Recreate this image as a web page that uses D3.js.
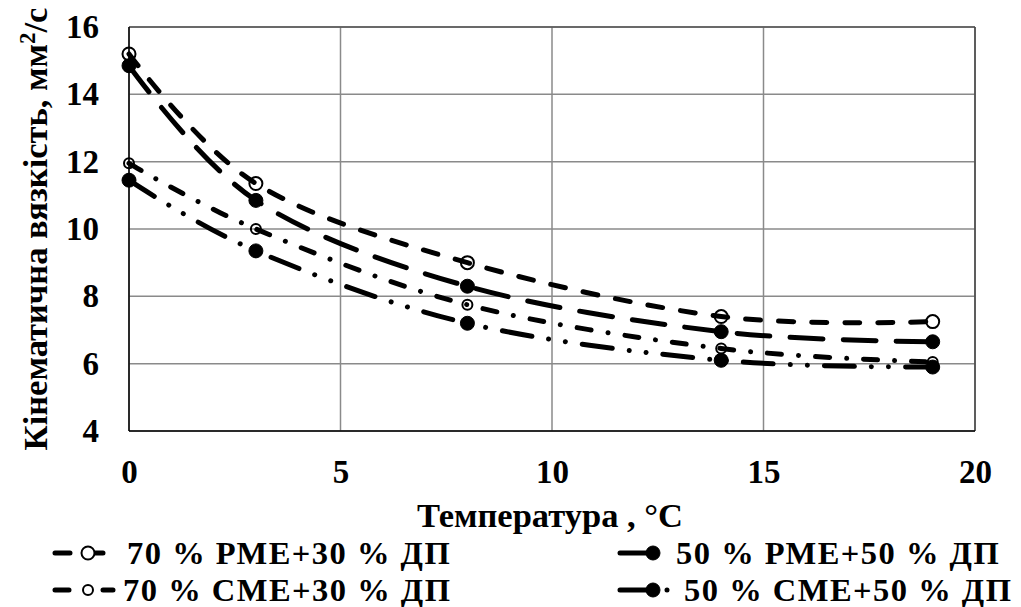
<!DOCTYPE html>
<html>
<head>
<meta charset="utf-8">
<script src="https://cdn.jsdelivr.net/npm/d3@7"></script>
<style>
  body { margin: 0; background: #fff; }
  svg text { font-family: "Liberation Serif", "Times New Roman", "DejaVu Serif", serif !important; font-weight: bold; fill: #000; }
</style>
</head>
<body>
<div id="viz"></div>
<script>
// data

const temps = [0, 3, 8, 14, 19];
const rme70 = [15.2, 11.35, 9.0, 7.4, 7.25];
const rme50 = [14.85, 10.85, 8.3, 6.95, 6.65];
const cme70 = [11.95, 10.0, 7.75, 6.45, 6.05];
const cme50 = [11.45, 9.35, 7.2, 6.1, 5.9];

const seriesNames = ["70 % РМЕ+30 % ДП", "50 % РМЕ+50 % ДП", "70 % СМЕ+30 % ДП", "50 % СМЕ+50 % ДП"];
const xTicks = [0, 5, 10, 15, 20];
const yTicks = [4, 6, 8, 10, 12, 14, 16];

async function draw() {

  const series = [rme70, rme50, cme70, cme50].map((vals, i) => ({
    name: seriesNames[i],
    values: temps.map((t, j) => ({ t: t, v: vals[j] }))
  }));

  // looks per series
  const looks = [
    { dash: "15,18", marker: "open", r: 6.5 },
    { dash: "33,20", marker: "filled", r: 7 },
    { dash: "14,17,0.01,17", marker: "open", r: 5 },
    { dash: "30,17,0.01,17,0.01,17", marker: "filled", r: 7 }
  ];

  // dimensions

  const dms = {
    width: 1021,
    height: 607,
    margins: { top: 27, left: 129, right: 46, bottom: 176 }
  };
  dms.innerWidth = dms.width - dms.margins.left - dms.margins.right;
  dms.innerHeight = dms.height - dms.margins.top - dms.margins.bottom;

  const svg = d3.select("#viz")
                  .append("svg")
                    .attr("width", dms.width)
                    .attr("height", dms.height)
                    .attr("font-family", "Liberation Serif");

  const g = svg.append("g")
                 .attr("transform", `translate(${dms.margins.left},${dms.margins.top})`);

  // scales

  const xScale = d3.scaleLinear().domain([0, 20]).range([0, dms.innerWidth]);
  const yScale = d3.scaleLinear().domain([4, 16]).range([dms.innerHeight, 0]);

  // grid

  g.append("g").selectAll("line")
    .data(yTicks)
    .join("line")
      .attr("x1", 0).attr("x2", dms.innerWidth)
      .attr("y1", d => yScale(d)).attr("y2", d => yScale(d))
      .attr("stroke", "#8a8a8a").attr("stroke-width", 1.5);

  g.append("g").selectAll("line")
    .data(xTicks)
    .join("line")
      .attr("x1", d => xScale(d)).attr("x2", d => xScale(d))
      .attr("y1", 0).attr("y2", dms.innerHeight)
      .attr("stroke", "#8a8a8a").attr("stroke-width", 1.5);

  g.append("line")
    .attr("x1", 0).attr("x2", dms.innerWidth)
    .attr("y1", 0).attr("y2", 0)
    .attr("stroke", "#555").attr("stroke-width", 1.5);
  g.append("line")
    .attr("x1", dms.innerWidth).attr("x2", dms.innerWidth)
    .attr("y1", 0).attr("y2", dms.innerHeight)
    .attr("stroke", "#444").attr("stroke-width", 1.5);
  g.append("line")
    .attr("x1", 0).attr("x2", dms.innerWidth)
    .attr("y1", dms.innerHeight).attr("y2", dms.innerHeight)
    .attr("stroke", "#000").attr("stroke-width", 1.5);
  g.append("line")
    .attr("x1", 0).attr("x2", 0)
    .attr("y1", 0).attr("y2", dms.innerHeight)
    .attr("stroke", "#000").attr("stroke-width", 1.5);

  // axes

  const xAxis = d3.axisBottom(xScale).tickValues(xTicks).tickSize(0).tickPadding(29);
  const xAxisG = g.append("g")
                    .attr("transform", `translate(0,${dms.innerHeight})`)
                    .call(xAxis)
                    .attr("font-family", "Liberation Serif");
  xAxisG.select(".domain").remove();
  xAxisG.selectAll("text")
    .attr("font-size", 33);

  const yAxis = d3.axisLeft(yScale).tickValues(yTicks).tickSize(0).tickPadding(30);
  const yAxisG = g.append("g")
                    .call(yAxis)
                    .attr("font-family", "Liberation Serif");
  yAxisG.select(".domain").remove();
  yAxisG.selectAll("text")
    .attr("font-size", 33);

  // lines

  const lineGen = d3.line()
                    .x(d => xScale(d.t))
                    .y(d => yScale(d.v))
                    .curve(d3.curveCardinal.tension(0));

  g.append("g").selectAll("path")
    .data(series)
    .join("path")
      .attr("d", d => lineGen(d.values))
      .attr("fill", "none")
      .attr("stroke", "#000")
      .attr("stroke-width", 5)
      .attr("stroke-linecap", "round")
      .attr("stroke-dasharray", (d, i) => looks[i].dash);

  // markers

  series.forEach((s, i) => {
    const look = looks[i];
    g.append("g").selectAll("circle")
      .data(s.values)
      .join("circle")
        .attr("cx", d => xScale(d.t))
        .attr("cy", d => yScale(d.v))
        .attr("r", look.r)
        .attr("fill", look.marker === "filled" ? "#000" : "none")
        .attr("stroke", "#000")
        .attr("stroke-width", look.marker === "filled" ? 1 : 2);
  });

  // axis titles

  svg.append("text")
    .attr("x", 550)
    .attr("y", 527)
    .attr("text-anchor", "middle")
    .attr("font-size", 34.5)
    .text("Температура , °С");

  const yTitle = svg.append("text")
    .attr("transform", "translate(47,229) rotate(-90)")
    .attr("text-anchor", "middle")
    .attr("font-size", 34.5);
  yTitle.append("tspan").text("Кінематична  вязкість, мм");
  yTitle.append("tspan").attr("font-size", 23).attr("dy", -12).text("2");
  yTitle.append("tspan").attr("dy", 12).text("/с");

  // legend

  const legendPos = [
    { x: 55, y: 564, len: 58, tx: 72 },
    { x: 620, y: 564, len: 52, tx: 56 },
    { x: 55, y: 601, len: 58, tx: 68 },
    { x: 620, y: 601, len: 60, tx: 64 }
  ];

  const legend = svg.append("g").selectAll("g")
                  .data(series)
                  .join("g")
                    .attr("transform", (d, i) => `translate(${legendPos[i].x},${legendPos[i].y})`);

  legend.append("line")
    .attr("x1", 0).attr("x2", (d, i) => legendPos[i].len)
    .attr("y1", -11).attr("y2", -11)
    .attr("stroke", "#000")
    .attr("stroke-width", 5)
    .attr("stroke-linecap", "round")
    .attr("stroke-dasharray", (d, i) => looks[i].dash);

  legend.append("circle")
    .attr("cx", 33)
    .attr("cy", -11)
    .attr("r", (d, i) => looks[i].r)
    .attr("fill", (d, i) => looks[i].marker === "filled" ? "#000" : "#fff")
    .attr("stroke", "#000")
    .attr("stroke-width", (d, i) => looks[i].marker === "filled" ? 1 : 2);

  legend.append("text")
    .attr("x", (d, i) => legendPos[i].tx)
    .attr("font-size", 32.5)
    .attr("letter-spacing", 1.5)
    .text(d => d.name);
}

draw();
</script>
</body>
</html>
